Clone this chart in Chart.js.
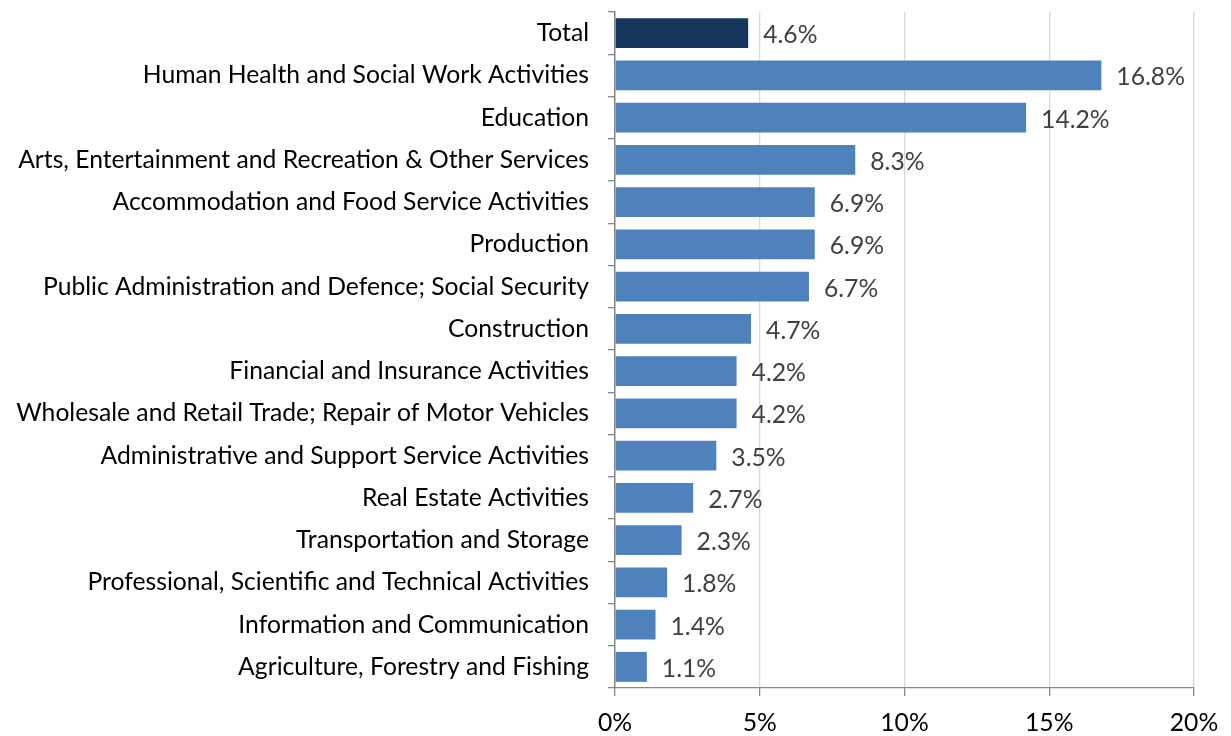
<!DOCTYPE html>
<html>
<head>
<meta charset="utf-8">
<script src="https://cdn.jsdelivr.net/npm/chart.js@4/dist/chart.umd.min.js"></script>
<style>
  html, body { margin: 0; padding: 0; background: #ffffff; }
  #wrap { width: 1231px; height: 736px; position: relative; }
</style>
</head>
<body>
<div id="wrap"><canvas id="chart"></canvas></div>
<script>
// Sector names, top to bottom
const categories = [
  "Total",
  "Human Health and Social Work Activities",
  "Education",
  "Arts, Entertainment and Recreation & Other Services",
  "Accommodation and Food Service Activities",
  "Production",
  "Public Administration and Defence; Social Security",
  "Construction",
  "Financial and Insurance Activities",
  "Wholesale and Retail Trade; Repair of Motor Vehicles",
  "Administrative and Support Service Activities",
  "Real Estate Activities",
  "Transportation and Storage",
  "Professional, Scientific and Technical Activities",
  "Information and Communication",
  "Agriculture, Forestry and Fishing"
];

// Share per sector, in percent
const shares = [4.6, 16.8, 14.2, 8.3, 6.9, 6.9, 6.7, 4.7, 4.2, 4.2, 3.5, 2.7, 2.3, 1.8, 1.4, 1.1];

// Axis ticks, in percent
const xTicks = [0, 5, 10, 15, 20];

const FONT = "Lato, 'Open Sans', sans-serif";
const FONT_SIZE = 24.7;

// Writes each bar's value just past its end
const valueLabels = {
  id: 'valueLabels',
  afterDatasetsDraw(chart) {
    const ctx = chart.ctx;
    const meta = chart.getDatasetMeta(0);
    ctx.save();
    ctx.font = FONT_SIZE + "px " + FONT;
    ctx.fillStyle = "#404040";
    ctx.textAlign = "left";
    ctx.textBaseline = "middle";
    meta.data.forEach((bar, i) => {
      ctx.fillText(shares[i].toFixed(1) + "%", bar.x + 15, bar.y + 2);
    });
    ctx.restore();
  }
};

new Chart(document.getElementById('chart'), {
  type: 'bar',
  data: {
    labels: categories,
    datasets: [{
      data: shares,
      backgroundColor: categories.map((c, i) => i === 0 ? "#17375e" : "#4f81bd"),
      borderWidth: 0,
      categoryPercentage: 1,
      barPercentage: 0.71
    }]
  },
  options: {
    indexAxis: 'y',
    responsive: true,
    maintainAspectRatio: false,
    animation: false,
    layout: { padding: { top: 12, right: 37, left: 0, bottom: 0 } },
    plugins: { legend: { display: false }, tooltip: { enabled: false } },
    scales: {
      x: {
        min: 0,
        max: 20,
        afterBuildTicks(scale) {
          scale.ticks = xTicks.map(v => ({ value: v }));
        },
        afterFit(scale) {
          scale.height = 48;
          scale.paddingLeft = 0;
          scale.paddingRight = 0;
        },
        ticks: {
          callback: v => v + "%",
          color: "#000000",
          font: { family: FONT, size: FONT_SIZE },
          padding: 12,
          maxRotation: 0
        },
        grid: {
          color: c => (c.tick && c.tick.value === 0) ? "#868686" : "#d9d9d9",
          tickColor: "#868686",
          tickLength: 8,
          lineWidth: 1.3
        },
        border: { display: true, color: "#868686", width: 1.3 }
      },
      y: {
        afterFit(scale) {
          scale.width = 615;
          scale.paddingTop = 0;
          scale.paddingBottom = 0;
        },
        ticks: {
          color: "#000000",
          font: { family: FONT, size: FONT_SIZE },
          padding: 19,
          autoSkip: false
        },
        grid: {
          offset: true,
          drawOnChartArea: false,
          drawTicks: true,
          tickLength: 7,
          tickColor: "#868686",
          lineWidth: 1.3
        },
        border: { display: true, color: "#868686", width: 1.3 }
      }
    }
  },
  plugins: [valueLabels]
});
</script>
</body>
</html>
